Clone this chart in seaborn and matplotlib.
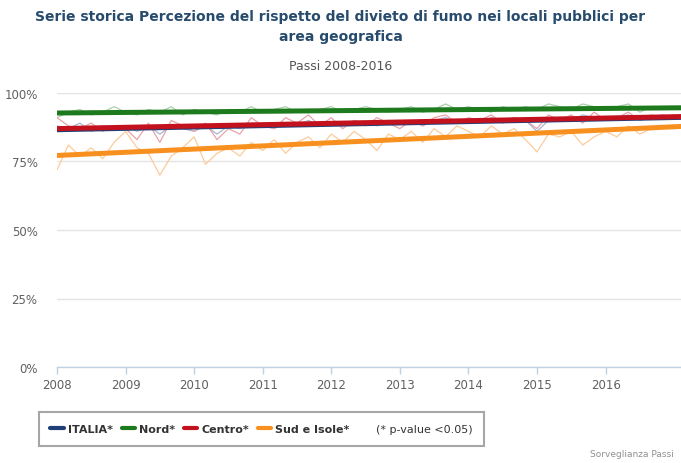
import numpy as np
import pandas as pd
import matplotlib
matplotlib.use("Agg")
import matplotlib.pyplot as plt
from matplotlib.lines import Line2D
import seaborn as sns

# ---------------- data ----------------
regions = ["ITALIA", "Nord", "Centro", "Sud e Isole"]
legend_labels = ["ITALIA*", "Nord*", "Centro*", "Sud e Isole*"]
years = [2008, 2009, 2010, 2011, 2012, 2013, 2014, 2015, 2016]
tick_labels = ["2008", "2009", "2010", "2011", "2012", "2013", "2014", "2015", "2016"]
y_ticks = [0, 25, 50, 75, 100]
y_tick_labels = ["0%", "25%", "50%", "75%", "100%"]

# bi-monthly observations, 2008.0 .. 2017.0
italia = [88, 87, 89, 86, 88, 87,
          88, 86, 88, 85, 88, 87,
          86, 88, 85, 88, 87, 89,
          88, 87, 89, 88, 90, 88,
          89, 88, 90, 89, 88, 90,
          89, 90, 88, 90, 91, 89,
          90, 89, 91, 90, 91, 90,
          86, 90, 91, 90, 92, 91,
          90, 91, 92, 90, 91, 92,
          91]
nord = [91, 93, 94, 92, 93, 95,
        93, 92, 94, 93, 95, 92,
        94, 93, 92, 94, 93, 95,
        93, 94, 95, 93, 94, 94,
        95, 93, 94, 95, 94, 93,
        94, 95, 93, 94, 96, 94,
        95, 94, 93, 95, 94, 95,
        94, 96, 95, 94, 96, 95,
        94, 95, 96, 93, 95, 94,
        95]
centro = [91, 88, 87, 89, 86, 88,
          87, 83, 89, 82, 90, 88,
          86, 89, 83, 87, 85, 91,
          88, 87, 91, 89, 92, 88,
          91, 87, 90, 88, 91, 89,
          87, 90, 88, 91, 92, 89,
          91, 90, 92, 89, 91, 90,
          87, 92, 90, 92, 89, 93,
          90, 91, 93, 90, 92, 91,
          92]
sud = [72, 81, 77, 80, 76, 82,
       86, 80, 78, 70, 77, 80,
       84, 74, 78, 80, 77, 82,
       79, 83, 78, 82, 84, 80,
       85, 82, 86, 83, 79, 85,
       83, 86, 82, 87, 84, 88,
       86, 84, 88, 85, 87, 83,
       78.5, 85, 84, 86, 81, 84,
       86, 84, 88, 85, 87, 88,
       87]

# linear trend end values at start / end of the axis
trend_years = [2008.0, 2017.1]
trend_italia = [86.6, 91.1]
trend_nord = [92.7, 94.6]
trend_centro = [87.0, 91.4]
trend_sud = [77.2, 87.8]

# ---------------- frames ----------------
n = len(italia)
t = [2008 + k / 6 for k in range(n)]
series = {"ITALIA": italia, "Nord": nord, "Centro": centro, "Sud e Isole": sud}
trends = {"ITALIA": trend_italia, "Nord": trend_nord, "Centro": trend_centro, "Sud e Isole": trend_sud}
df = pd.concat([pd.DataFrame({"anno": t, "valore": v, "area": r}) for r, v in series.items()])
dft = pd.concat([pd.DataFrame({"anno": trend_years, "valore": v, "area": r}) for r, v in trends.items()])

dark = {"ITALIA": "#1f3f77", "Nord": "#1d7a1d", "Centro": "#c3121e", "Sud e Isole": "#f7901e"}
light = {"ITALIA": "#a3b6d3", "Nord": "#a9d0a9", "Centro": "#e8a3aa", "Sud e Isole": "#fccb99"}

# ---------------- plot ----------------
sns.set_style("white")
plt.rcParams["font.family"] = ["DejaVu Sans"]

fig = plt.figure(figsize=(6.81, 4.64), dpi=100)
ax = fig.add_axes([57 / 681, 1 - 368 / 464, 1 - 57 / 681, (368 - 94) / 464])

sns.lineplot(data=df, x="anno", y="valore", hue="area", hue_order=regions,
             palette=light, lw=0.9, legend=False, ax=ax, zorder=2)
sns.lineplot(data=dft, x="anno", y="valore", hue="area", hue_order=regions,
             palette=dark, lw=3.6, legend=False, ax=ax, zorder=3)

ax.set_xlim(2008, 2017.1)
ax.set_ylim(0, 100)
ax.set_xlabel("")
ax.set_ylabel("")
ax.set_xticks(years)
ax.set_xticklabels(tick_labels)
ax.set_yticks(y_ticks)
ax.set_yticklabels(y_tick_labels)
ax.yaxis.grid(True, color="#e4e4e4", lw=1)
ax.xaxis.grid(False)
for s in ["top", "right", "left"]:
    ax.spines[s].set_visible(False)
ax.spines["bottom"].set_color("#c0d0e0")
ax.spines["bottom"].set_linewidth(1)
ax.tick_params(axis="x", bottom=True, length=5, width=1, color="#c0d0e0",
               labelsize=8.5, labelcolor="#606060", pad=3)
ax.tick_params(axis="y", length=0, labelsize=8.5, labelcolor="#606060", pad=14)
ax.set_axisbelow(True)

# titles
fig.text(0.5, 1 - 10 / 464,
         "Serie storica Percezione del rispetto del divieto di fumo nei locali pubblici per\narea geografica",
         ha="center", va="top", fontsize=10, fontweight="bold", color="#274b6d", linespacing=1.5)
fig.text(0.5, 1 - 67 / 464, "Passi 2008-2016", ha="center", va="center",
         fontsize=9, color="#555555")

# legend
handles = [Line2D([], [], color=dark[r], lw=3) for r in regions]
handles.append(Line2D([], [], color="none", lw=0))
labels = legend_labels + ["(* p-value <0.05)"]
leg = fig.legend(handles, labels, loc="center", bbox_to_anchor=(261.5 / 681, 1 - 430 / 464),
                 ncol=5, frameon=True, fancybox=False, fontsize=8, handlelength=1.2,
                 handletextpad=0.4, columnspacing=0.75, borderpad=1.05, borderaxespad=0)
leg.get_frame().set_edgecolor("#909090")
leg.get_frame().set_linewidth(1.5)
for i, txt in enumerate(leg.get_texts()):
    txt.set_color("#333333")
    if i < 4:
        txt.set_fontweight("bold")

fig.text(590 / 681, 1 - 455 / 464, "Sorveglianza Passi", ha="left", va="center",
         fontsize=6.5, color="#909090")

fig.savefig("out.png", dpi=100)
